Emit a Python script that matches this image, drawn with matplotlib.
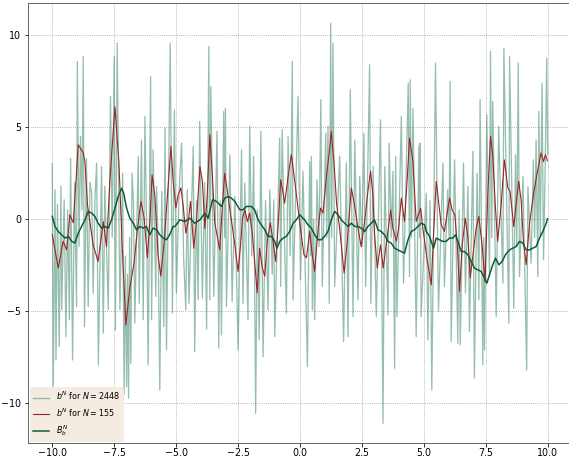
import matplotlib
matplotlib.use("Agg")
import matplotlib.pyplot as plt

# ---- data ----
bn_x = [-10.0, -9.96, -9.89, -9.85, -9.79, -9.72, -9.65, -9.62, -9.52, -9.45, -9.38, -9.31, -9.26, -9.18, -9.1,
        -9.02, -8.99, -8.92, -8.86, -8.8, -8.75, -8.70, -8.62, -8.55, -8.48, -8.41, -8.35, -8.28, -8.21, -8.14,
        -8.01, -7.94, -7.88, -7.74, -7.65, -7.58, -7.5, -7.45, -7.38, -7.27, -7.16, -7.1, -7.05, -7.0, -6.96,
        -6.92, -6.88, -6.83, -6.78, -6.72, -6.67, -6.53, -6.49, -6.4, -6.33, -6.26, -6.18, -6.13, -6.03, -5.99,
        -5.93, -5.82, -5.79, -5.72, -5.66, -5.58, -5.5, -5.45, -5.39, -5.31, -5.24, -5.15, -5.07, -4.99, -4.88,
        -4.78, -4.7, -4.61, -4.55, -4.48, -4.31, -4.25, -4.18, -4.11, -4.05, -3.94, -3.85, -3.77, -3.68, -3.64,
        -3.6, -3.48, -3.35, -3.28, -3.22, -3.17, -3.08, -3.04, -3.01, -2.97, -2.83, -2.74, -2.63, -2.5, -2.36,
        -2.3, -2.23, -2.1, -2.03, -1.95, -1.87, -1.79, -1.72, -1.65, -1.58, -1.49, -1.39, -1.29, -1.22, -1.12,
        -1.06, -1.02, -0.82, -0.78, -0.72, -0.62, -0.55, -0.48, -0.4, -0.31, -0.28, -0.08, 0.02, 0.12, 0.3,
        0.39, 0.43, 0.46, 0.5, 0.55, 0.59, 0.69, 0.77, 0.84, 0.9, 1.04, 1.08, 1.13, 1.18, 1.24,
        1.28, 1.33, 1.4, 1.6, 1.76, 1.87, 1.94, 2.03, 2.14, 2.21, 2.34, 2.41, 2.5, 2.58, 2.65,
        2.81, 2.86, 2.95, 3.08, 3.25, 3.35, 3.42, 3.55, 3.6, 3.68, 3.75, 3.82, 3.86, 3.91, 4.09,
        4.18, 4.37, 4.42, 4.45, 4.5, 4.56, 4.69, 4.8, 4.83, 4.85, 4.89, 5.1, 5.16, 5.25, 5.32,
        5.47, 5.59, 5.77, 5.83, 5.96, 6.02, 6.06, 6.1, 6.24, 6.37, 6.42, 6.47, 6.6, 6.68, 6.78,
        6.84, 6.98, 7.04, 7.15, 7.22, 7.27, 7.38, 7.42, 7.45, 7.54, 7.65, 7.69, 7.74, 7.78, 7.92,
        8.02, 8.19, 8.23, 8.43, 8.46, 8.63, 8.7, 8.75, 8.81, 8.86, 9.0, 9.15, 9.2, 9.33, 9.42,
        9.47, 9.53, 9.6, 9.64, 9.7, 9.77, 9.83, 9.9, 9.96, 10.0]
bn_y = [3.0, -9.28, 1.6, -7.65, 0.8, -6.92, 1.8, -4.93, 1.05, -6.38, 0.5, -5.47, 3.3, -7.65, 2.0,
        -4.75, 8.57, -1.5, 4.5, 0.5, 8.84, -5.84, 3.3, -4.75, 2.0, 1.4, -4.02, 1.0, 3.04, -7.92,
        2.86, -6.2, 1.78, -4.93, 6.67, -1.0, 8.84, -6.02, 9.56, -4.93, 2.5, -9.55, -2.0, -9.1, -3.0,
        -9.73, -1.0, -7.83, 2.5, 0.87, -5.65, 3.4, -4.57, 4.3, -5.47, 5.58, -1.5, -7.92, 7.75, -5.47,
        3.77, -4.2, 1.78, -2.0, -9.28, 1.5, -5.84, 4.95, -7.1, 2.0, 9.56, -5.11, 5.94, -4.02, 1.5,
        4.13, -2.0, -4.93, 1.6, -4.57, 3.95, -7.19, 1.0, -4.39, 5.3, -4.3, 2.0, -5.98, 9.38, -4.39,
        7.2, -4.2, 4.77, -7.01, 1.0, -6.29, 5.85, -1.0, 6.03, -4.75, 3.5, -4.48, 1.23, -7.1, 3.77,
        -4.57, 1.96, -5.47, 5.04, -2.0, 3.41, -10.55, 0.5, -6.56, 4.77, -7.47, 1.0, -4.93, 1.6, -3.0,
        1.05, -6.38, 4.4, -3.66, 4.86, -1.5, -5.11, 4.49, -2.0, 8.57, -4.39, 6.67, -3.3, 2.6, -8.01,
        3.13, -2.0, 3.41, -4.93, 0.0, -5.47, 2.14, -1.5, 6.49, -3.66, 4.67, -1.0, 5.04, -4.57, 10.65,
        -1.0, 9.56, -3.66, 3.41, -6.65, 3.04, -6.38, 7.03, -5.29, 4.3, -4.39, 2.32, -1.5, 4.67, -3.66,
        8.39, -4.57, 2.86, -5.29, 5.4, -11.09, 2.86, -5.2, 4.13, -1.0, 2.59, -8.1, 3.4, -5.29, 5.58,
        -3.48, 7.39, -3.12, 7.57, -1.0, 6.03, -6.38, 3.95, -1.0, 4.13, -5.29, 1.41, -6.56, 1.0, -9.28,
        8.48, -5.02, 3.04, -3.66, 1.6, -1.0, 7.48, -6.65, 3.22, -6.74, 0.5, -6.83, 3.04, -4.02, 1.78,
        -6.11, 3.68, -8.64, 2.5, -4.39, 6.49, -7.92, -1.0, -7.1, 5.67, -3.12, 9.11, -1.0, 6.4, -5.29,
        5.04, -3.48, 9.29, -5.65, 8.84, -4.84, 3.5, -1.5, 8.48, -3.12, 2.32, -8.19, 1.78, -2.39, 3.22,
        -1.0, 4.3, -3.12, 5.85, -1.0, 7.39, -2.21, 3.0, 8.75, 3.5]

b155_x = [-10.0, -9.76, -9.56, -9.42, -9.29, -9.15, -8.95, -8.75, -8.68, -8.58, -8.35, -8.15, -7.94, -7.81, -7.67,
          -7.47, -7.31, -7.18, -7.03, -6.87, -6.69, -6.56, -6.42, -6.29, -6.16, -6.06, -5.97, -5.86, -5.73, -5.62,
          -5.48, -5.35, -5.21, -5.12, -5.01, -4.92, -4.81, -4.72, -4.61, -4.51, -4.42, -4.29, -4.18, -4.04, -3.94,
          -3.84, -3.75, -3.64, -3.53, -3.44, -3.35, -3.24, -3.13, -3.04, -2.93, -2.81, -2.63, -2.5, -2.40, -2.32,
          -2.23, -2.12, -2.03, -1.92, -1.83, -1.73, -1.63, -1.52, -1.42, -1.32, -1.20, -1.09, -0.98, -0.89, -0.78,
          -0.68, -0.62, -0.48, -0.35, -0.21, -0.08, 0.05, 0.16, 0.26, 0.39, 0.48, 0.59, 0.73, 0.83, 0.93,
          1.06, 1.20, 1.26, 1.37, 1.48, 1.60, 1.78, 1.91, 2.07, 2.20, 2.34, 2.47, 2.61, 2.74, 2.85,
          2.94, 3.01, 3.12, 3.25, 3.36, 3.48, 3.66, 3.75, 3.89, 3.98, 4.09, 4.22, 4.33, 4.42, 4.56,
          4.69, 4.87, 4.96, 5.12, 5.30, 5.39, 5.50, 5.61, 5.70, 5.83, 5.93, 6.04, 6.14, 6.25, 6.35,
          6.44, 6.55, 6.67, 6.78, 6.87, 7.00, 7.11, 7.22, 7.35, 7.47, 7.58, 7.69, 7.78, 7.89, 7.98,
          8.12, 8.25, 8.39, 8.48, 8.63, 8.72, 8.83, 8.93, 9.02, 9.13, 9.26, 9.42, 9.56, 9.73, 9.83,
          9.91, 9.99]
b155_y = [-0.85, -2.66, -1.2, -1.67, 0.24, -0.2, 4.04, 3.6, 3.1, 0.78, -1.4, -2.3, -0.13, -1.49, 2.2,
          6.1, 3.1, -1.4, -5.75, -3.75, -2.3, -0.5, 0.96, 0.05, -2.1, -0.13, 2.4, 1.3, -1.94, -3.1,
          -1.2, 1.3, 3.95, 2.05, 0.6, 1.3, 1.7, 0.78, -0.76, -0.13, 0.96, -1.58, -0.13, 2.86, 2.05,
          -0.5, 1.14, 4.58, 2.2, -0.2, -0.85, -1.67, 0.78, 2.5, 1.5, 0.33, -1.4, -2.84, -1.4, 0.05,
          0.5, -0.13, 0.33, -0.85, -2.3, -4.0, -1.58, -2.66, -3.1, -1.2, -0.2, -1.2, -2.3, -0.5, 2.14,
          1.4, 0.87, 2.3, 3.5, 2.05, 0.6, -0.85, -1.94, -2.1, -0.67, -1.76, -2.84, -0.5, 0.6, 0.33,
          2.23, 3.86, 4.76, 3.13, 0.78, -0.5, -2.93, -1.2, 1.7, 0.78, -0.5, -1.49, -0.13, 1.5, 2.6,
          1.3, -0.85, -2.66, -1.4, -2.66, -1.4, 0.5, -0.5, -1.2, -0.5, 1.14, -0.13, 2.23, 4.4, 3.13,
          -0.13, 0.6, -0.5, -2.1, -3.57, -0.85, 2.05, 0.78, -0.3, -0.67, 0.24, 1.14, 0.5, 0.24, -1.4,
          -3.93, -1.4, 0.05, -1.03, -3.2, -1.76, -0.5, 0.15, -1.4, -3.4, 1.32, 4.5, 3.5, 0.6, -1.2,
          0.78, 3.22, 1.7, 1.5, -0.4, 0.78, 2.05, 0.96, -1.2, -2.48, -0.3, 1.32, 2.4, 3.6, 3.13,
          3.5, 3.17]

B_x = [-10.0, -9.89, -9.76, -9.62, -9.49, -9.35, -9.22, -9.09, -8.95, -8.82, -8.68, -8.55, -8.41, -8.28, -8.15,
       -8.01, -7.88, -7.74, -7.61, -7.47, -7.34, -7.2, -7.12, -7.0, -6.87, -6.73, -6.6, -6.46, -6.33, -6.2,
       -6.06, -5.93, -5.79, -5.66, -5.52, -5.39, -5.26, -5.12, -5.05, -4.85, -4.65, -4.45, -4.25, -4.04, -3.84,
       -3.71, -3.53, -3.37, -3.17, -3.04, -2.9, -2.77, -2.63, -2.43, -2.3, -2.16, -1.96, -1.83, -1.69, -1.56,
       -1.42, -1.29, -1.15, -1.02, -0.93, -0.82, -0.68, -0.55, -0.42, -0.28, -0.15, -0.01, 0.05, 0.19, 0.32,
       0.46, 0.59, 0.73, 0.86, 0.99, 1.13, 1.26, 1.4, 1.53, 1.67, 1.8, 1.94, 2.07, 2.21, 2.34,
       2.47, 2.61, 2.74, 2.88, 3.01, 3.15, 3.28, 3.41, 3.55, 3.68, 3.82, 3.95, 4.09, 4.22, 4.36,
       4.49, 4.62, 4.76, 4.89, 5.03, 5.1, 5.23, 5.39, 5.5, 5.63, 5.77, 5.9, 6.04, 6.17, 6.28,
       6.37, 6.51, 6.64, 6.78, 6.91, 7.04, 7.18, 7.31, 7.45, 7.54, 7.65, 7.78, 7.89, 8.03, 8.16,
       8.29, 8.46, 8.59, 8.72, 8.86, 8.99, 9.13, 9.26, 9.4, 9.53, 9.67, 9.8, 9.94, 9.99]
B_y = [0.15, -0.4, -0.67, -0.85, -1.03, -0.94, -1.2, -1.3, -0.76, -0.4, -0.04, 0.42, 0.33, 0.15, -0.22,
       -0.49, -0.4, -0.49, -0.04, 0.6, 1.23, 1.68, 1.41, 0.6, 0.05, -0.22, -0.58, -0.4, -0.49, -0.4,
       -0.85, -0.49, -0.58, -0.85, -1.03, -1.12, -0.85, -0.4, -0.4, -0.04, -0.13, 0.05, -0.22, -0.04, 0.33,
       0.05, 1.05, 0.96, 0.69, 1.14, 1.23, 1.14, 0.96, 0.51, 0.51, 0.69, 0.69, 0.51, -0.04, -0.31,
       -0.58, -0.94, -0.94, -1.21, -1.58, -1.21, -1.03, -0.94, -0.67, -0.22, -0.04, 0.24, 0.15, -0.04, -0.31,
       -0.49, -0.85, -1.12, -1.12, -0.94, -0.67, -0.04, 0.42, 0.24, -0.04, -0.22, -0.4, -0.22, -0.4, -0.4,
       -0.49, -0.67, -0.4, -0.22, -0.04, -0.58, -0.67, -0.85, -1.21, -1.3, -1.58, -1.67, -1.76, -1.85, -1.12,
       -0.67, -0.58, -0.4, -0.22, -0.31, -0.67, -0.94, -1.58, -1.03, -1.12, -1.21, -1.21, -1.03, -1.03, -0.85,
       -1.21, -1.76, -1.76, -1.94, -2.3, -2.66, -2.75, -2.84, -3.2, -3.48, -3.02, -2.48, -2.12, -2.48, -2.3,
       -1.94, -1.67, -1.58, -1.49, -1.21, -1.3, -1.67, -1.67, -1.58, -1.49, -1.03, -0.67, -0.22, 0.02]

labels = [r"$b^N$ for $N = 2448$", r"$b^N$ for $N = 155$", r"$B_b^N$"]
xticks = [-10.0, -7.5, -5.0, -2.5, 0.0, 2.5, 5.0, 7.5, 10.0]
yticks = [-10, -5, 0, 5, 10]

# ---- figure ----
fig = plt.figure(figsize=(569 / 72, 458 / 72), dpi=72)
ax = fig.add_axes([28 / 569, 15 / 458, 544 / 569, 440 / 458])

ax.plot(bn_x, bn_y, color="#3f8a6c", alpha=0.55, lw=1.3, label=labels[0])
ax.plot(b155_x, b155_y, color="#9b2424", lw=1.1, label=labels[1])
ax.plot(B_x, B_y, color="#0b5a36", lw=1.5, label=labels[2])

ax.set_xlim(-10.98, 10.98)
ax.set_ylim(-12.16, 11.74)
ax.set_xticks(xticks)
ax.set_xticklabels([f"{t:.1f}".replace("-", "\u2212") for t in xticks])
ax.set_yticks(yticks)
ax.set_yticklabels([f"{t}".replace("-", "\u2212") for t in yticks])
ax.tick_params(axis="x", pad=1.5, labelsize=9.5)
ax.tick_params(axis="y", labelsize=9.5)
ax.grid(True, linestyle=":", color="#999999", lw=0.8)
for s in ax.spines.values():
    s.set_color("#444444")

leg = ax.legend(loc="lower left", borderaxespad=0.25, facecolor="#f4ebe1",
                edgecolor="#f4ebe1", framealpha=1.0, fontsize=8)

fig.savefig("out.png", dpi=72)
